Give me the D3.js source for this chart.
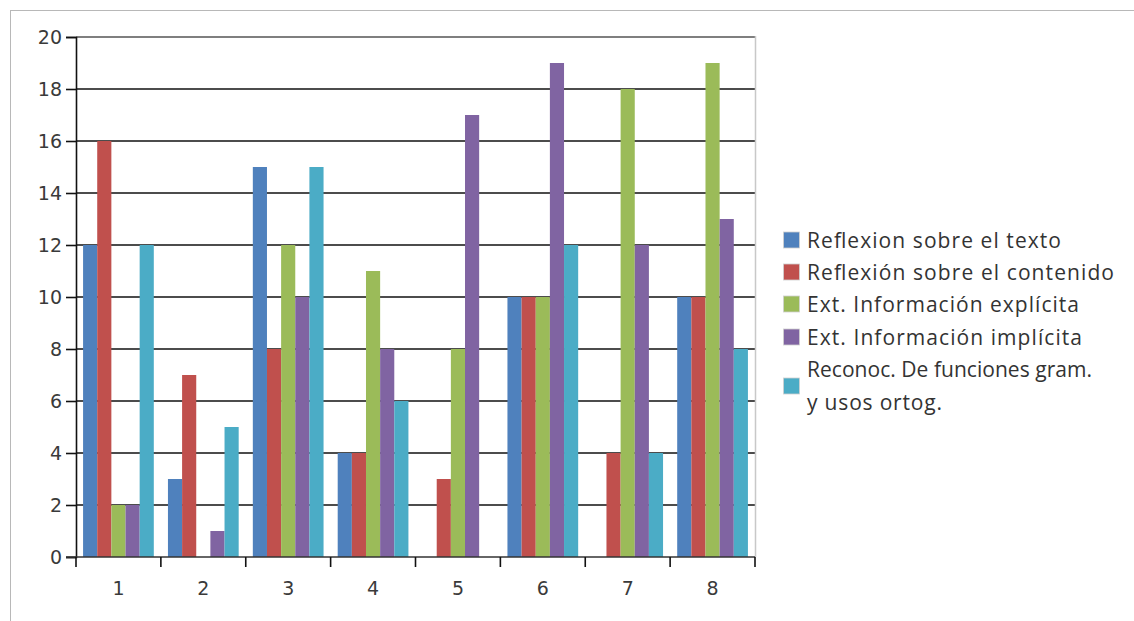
<!DOCTYPE html>
<html>
<head>
<meta charset="utf-8">
<script src="https://cdn.jsdelivr.net/npm/d3@7"></script>
<style>
  html, body { margin: 0; padding: 0; background: #fff; }
  svg { display: block; }
</style>
</head>
<body>
<svg id="chart" width="1134" height="621"></svg>
<script>
const categories = ["1", "2", "3", "4", "5", "6", "7", "8"];
const seriesNames = [
  "Reflexion sobre el texto",
  "Reflexión sobre el contenido",
  "Ext. Información explícita",
  "Ext. Información implícita",
  "Reconoc. De funciones gram. y usos ortog."
];
const reflexionTexto     = [12, 3, 15, 4, 0, 10, 0, 10];
const reflexionContenido = [16, 7, 8, 4, 3, 10, 4, 10];
const infoExplicita      = [2, 0, 12, 11, 8, 10, 18, 19];
const infoImplicita      = [2, 1, 10, 8, 17, 19, 12, 13];
const funcionesGram      = [12, 5, 15, 6, 0, 12, 4, 8];
const yTicks = [0, 2, 4, 6, 8, 10, 12, 14, 16, 18, 20];
const colors = ["#4F81BD", "#C0504D", "#9BBB59", "#8064A2", "#4BACC6"];

const seriesValues = [reflexionTexto, reflexionContenido, infoExplicita, infoImplicita, funcionesGram];

(function () {
const svg = d3.select("#chart");

// outer frame (only left and top edges visible)
svg.append("rect")
  .attr("x", 10.5).attr("y", 10.5)
  .attr("width", 1300).attr("height", 800)
  .attr("fill", "none").attr("stroke", "#b8b8b8").attr("stroke-width", 1);

const pLeft = 76, pRight = 755, pTop = 37, pBottom = 557;

const x0 = d3.scaleBand().domain(categories).range([pLeft, pRight]).padding(0);
const x1 = d3.scaleBand().domain(d3.range(seriesNames.length))
  .range([0, x0.bandwidth()]).paddingInner(0).paddingOuter(0.5);
const y = d3.scaleLinear().domain([0, 20]).range([pBottom, pTop]);

// gridlines
svg.append("g").selectAll("line")
  .data(yTicks.filter(d => d > 0))
  .join("line")
  .attr("x1", pLeft).attr("x2", pRight)
  .attr("y1", d => y(d)).attr("y2", d => y(d))
  .attr("stroke", d => d === 20 ? "#555" : "#111")
  .attr("stroke-width", 1.6);

// right border of plot area
svg.append("line")
  .attr("x1", pRight + 0.5).attr("x2", pRight + 0.5)
  .attr("y1", pTop - 1).attr("y2", pBottom)
  .attr("stroke", "#c8c8c8").attr("stroke-width", 1.5);

// bars
const groups = svg.append("g").selectAll("g")
  .data(categories)
  .join("g")
  .attr("transform", d => `translate(${x0(d)},0)`);

groups.selectAll("rect")
  .data((c, i) => seriesValues.map((vals, s) => ({ s, v: vals[i] })))
  .join("rect")
  .attr("x", d => x1(d.s))
  .attr("width", x1.bandwidth())
  .attr("y", d => y(d.v))
  .attr("height", d => y(0) - y(d.v))
  .attr("fill", d => colors[d.s]);

// y axis
const yAxis = d3.axisLeft(y).tickValues(yTicks).tickSize(10).tickPadding(4);
const gy = svg.append("g").attr("transform", `translate(${pLeft},0)`).call(yAxis);
gy.select(".domain").attr("stroke", "#111").attr("stroke-width", 1.6);
gy.selectAll(".tick line").attr("stroke", "#111").attr("stroke-width", 1.6);
gy.selectAll(".tick text")
  .attr("font-family", "DejaVu Sans")
  .attr("font-size", 19)
  .attr("fill", "#3a3a3a");

// x axis
const gx = svg.append("g").attr("transform", `translate(0,${pBottom})`);
gx.append("line")
  .attr("x1", pLeft - 10).attr("x2", pRight)
  .attr("y1", 0).attr("y2", 0)
  .attr("stroke", "#333").attr("stroke-width", 1.6);
const boundaries = categories.map(c => x0(c)).concat([pRight]);
gx.selectAll(".bt").data(boundaries).join("line")
  .attr("class", "bt")
  .attr("x1", d => d).attr("x2", d => d)
  .attr("y1", 0).attr("y2", 10)
  .attr("stroke", "#111").attr("stroke-width", 1.6);
gx.selectAll("text").data(categories).join("text")
  .attr("x", d => x0(d) + x0.bandwidth() / 2)
  .attr("y", 31)
  .attr("dy", "0.35em")
  .attr("text-anchor", "middle")
  .attr("font-family", "DejaVu Sans")
  .attr("font-size", 19)
  .attr("fill", "#3a3a3a")
  .text(d => d);

// legend
const legendRows = [
  { s: 0, lines: ["Reflexion sobre el texto"], y: 240, w: [254] },
  { s: 1, lines: ["Reflexión sobre el contenido"], y: 272, w: [307] },
  { s: 2, lines: ["Ext. Información explícita"], y: 304, w: [272] },
  { s: 3, lines: ["Ext. Información implícita"], y: 337, w: [275] },
  { s: 4, lines: ["Reconoc. De funciones gram.", "y usos ortog."], y: 386, w: [285, 135] }
];
const lg = svg.append("g");
legendRows.forEach(r => {
  lg.append("rect")
    .attr("x", 783.5).attr("y", r.y - 8)
    .attr("width", 16).attr("height", 16)
    .attr("fill", colors[r.s])
    .attr("stroke", "#d0d0d0").attr("stroke-width", 0.8);
  const n = r.lines.length;
  r.lines.forEach((ln, k) => {
    lg.append("text")
      .attr("x", 807)
      .attr("y", r.y + (k - (n - 1) / 2) * 33)
      .attr("dy", "0.36em")
      .attr("font-family", "Open Sans")
      .attr("font-size", 21)
      .attr("textLength", r.w[k])
      .attr("lengthAdjust", "spacing")
      .attr("fill", "#333")
      .text(ln);
  });
});
})();
</script>
</body>
</html>
